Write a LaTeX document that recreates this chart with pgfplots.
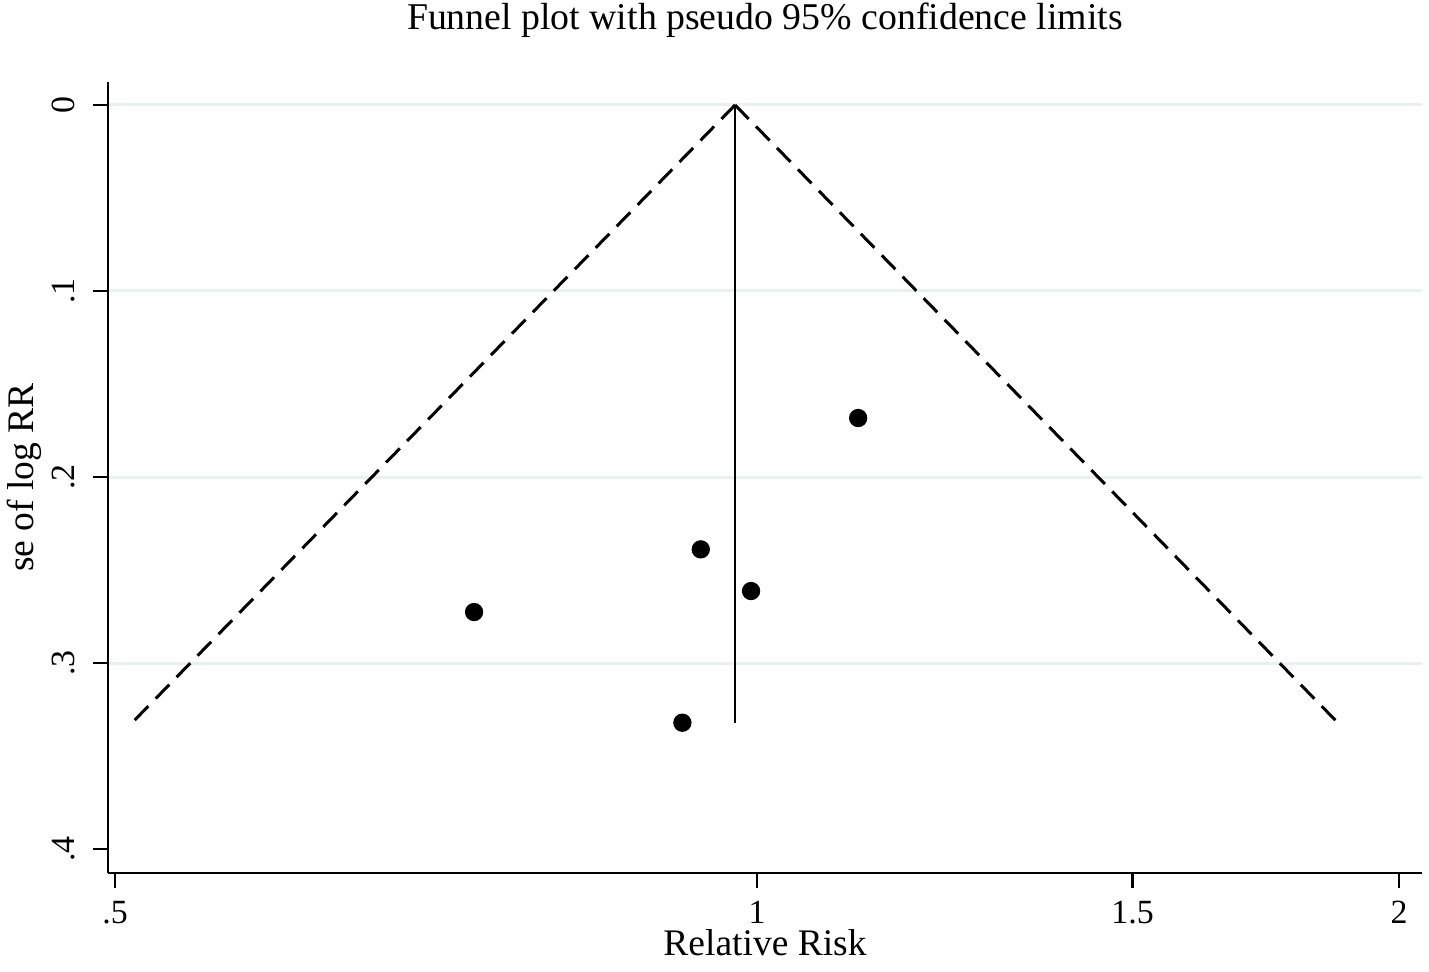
\documentclass[border=0pt]{standalone}
\usepackage{fontspec}
\setmainfont{Liberation Serif}
\usepackage{pgfplots}
\pgfplotsset{compat=1.18}
\definecolor{gridc}{RGB}{232,240,242}
\begin{document}
\begin{tikzpicture}
\begin{axis}[name=ax, at={(0,0)}, anchor=south west,
  scale only axis, width=438pt, height=263.67pt,
  xmode=log, xmin=0.4962, xmax=2.050,
  y dir=reverse, ymin=-0.01237, ymax=0.4129,
  axis x line*=bottom, axis y line*=left,
  axis line style={-, black, line width=0.9pt},
  xtick={0.5,1,1.5,2}, xticklabels={\textrm{.5},\textrm{1},\textrm{1.5},\textrm{2}},
  xminorticks=false, yminorticks=false,
  ytick={0,0.1,0.2,0.3}, yticklabels={\textrm{0},\textrm{.1},\textrm{.2},\textrm{.3}},
  extra y ticks={0.4}, extra y tick labels={\textrm{.4}},
  extra y tick style={grid=none},
  ymajorgrids, major grid style={gridc, line width=1pt},
  tick align=outside, major tick length=5pt,
  tick style={black, line width=0.9pt},
  tick label style={font=\fontsize{11.3}{13}\selectfont, inner sep=0pt},
  xticklabel style={anchor=base}, xticklabel shift=11.7pt,
  yticklabel style={rotate=90, anchor=base}, yticklabel shift=6.3pt,
]
\addplot[black, line width=1pt, dash pattern=on 6.5pt off 3.5pt] coordinates {(0.9765,0) (0.5094,0.332)};
\addplot[black, line width=1pt, dash pattern=on 6.5pt off 3.5pt] coordinates {(0.9765,0) (1.8718,0.332)};
\addplot[black, line width=0.9pt] coordinates {(0.9765,0) (0.9765,0.332)};
\addplot[only marks, mark=*, mark size=2.85pt, black] coordinates {
  (1.1153,0.1683)
  (0.941,0.2389)
  (0.9935,0.2613)
  (0.7367,0.2726)
  (0.9225,0.3321)
};
\end{axis}
\node[anchor=base, inner sep=0pt, font=\fontsize{12.6}{15}\selectfont] at (219pt,281pt) {Funnel plot with pseudo 95\% confidence limits};
\node[anchor=base, inner sep=0pt, font=\fontsize{12.5}{15}\selectfont] at (219pt,-27.6pt) {Relative Risk};
\node[anchor=base, inner sep=0pt, rotate=90, font=\fontsize{12.5}{15}\selectfont] at (-25pt,131.83pt) {se of log RR};
\pgfresetboundingbox
\path[use as bounding box] (-36pt,-32.67pt) rectangle (440.33pt,291pt);
\end{tikzpicture}
\end{document}
